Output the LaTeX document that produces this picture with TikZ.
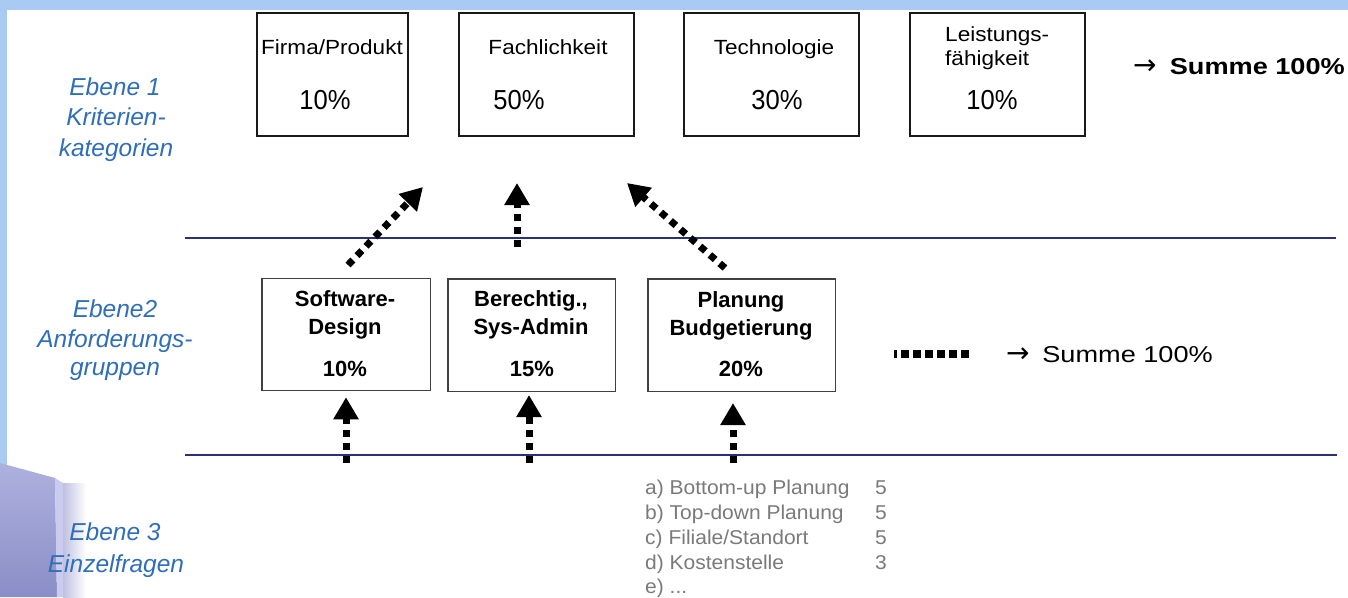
\documentclass[tikz,border=0pt]{standalone}
\usepackage{fontspec}
\setmainfont{Liberation Sans}
\newfontfamily\ttl[FakeStretch=1.1]{Liberation Sans}
\newfontfamily\pct[FakeStretch=0.93]{Liberation Sans}
\newfontfamily\sumfont[FakeStretch=1.18]{Liberation Sans}
\newfontfamily\listfont[FakeStretch=1.05]{Liberation Sans}
\newfontfamily\arrowfont{DejaVu Sans}
\usetikzlibrary{arrows.meta}
\definecolor{frameblue}{HTML}{A9CBF3}
\definecolor{lblblue}{HTML}{2F6FB8}
\definecolor{navyline}{HTML}{2A2F7E}
\definecolor{listgray}{HTML}{7A7A7A}
\definecolor{decolight}{HTML}{AEB1DE}
\definecolor{decodark}{HTML}{8A8EC6}
\definecolor{decobar}{HTML}{CACBEE}
\begin{document}
\begin{tikzpicture}[x=1pt,y=-1pt,
  topbox/.style={draw=black!90, line width=2pt, fill=white, inner sep=0pt},
  midbox/.style={draw=black!75, line width=1.5pt, fill=white, inner sep=0pt},
  ttltxt/.style={font=\ttl\fontsize{20.5}{24}\selectfont, inner sep=0pt, anchor=base},
  pcttxt/.style={font=\pct\fontsize{27.5}{30}\selectfont, inner sep=0pt, anchor=base},
  midtxt/.style={font=\bfseries\fontsize{22}{26}\selectfont, inner sep=0pt, anchor=base},
  lvltxt/.style={font=\itshape\fontsize{24.5}{28}\selectfont, text=lblblue, inner sep=0pt, anchor=base},
  listtxt/.style={font=\listfont\fontsize{20}{24}\selectfont, text=listgray, inner sep=0pt, anchor=base west},
  darr/.style={line width=7pt, dash pattern=on 7pt off 6pt, -{Triangle[length=22pt,width=24pt]}},
  hrule/.style={draw=navyline, line width=1.4pt}
]
\useasboundingbox (0,0) rectangle (1348,597);
\fill[white] (0,0) rectangle (1348,597);
% frame
\fill[frameblue] (0,0) rectangle (1348,10);
\fill[frameblue] (0,0) rectangle (7,597);
% decoration bottom left
\shade[top color=decolight, bottom color=decodark] (0,463) -- (55,478) -- (57,597) -- (0,597) -- cycle;
\fill[decobar] (55,478) -- (63,483) -- (64,597) -- (57,597) -- cycle;
\shade[left color=decodark!55!white, right color=white] (63,483) rectangle (86,597);

% horizontal rules
\coordinate (l1a) at (185,238); \coordinate (l1b) at (1336,238);
\coordinate (l2a) at (185,455); \coordinate (l2b) at (1337,455);
\draw[hrule] (l1a) -- (l1b);
\draw[hrule] (l2a) -- (l2b);

% level labels
\node[lvltxt] (e1a) at (115,95) {Ebene 1};
\node[lvltxt] (e1b) at (116,125) {Kriterien-};
\node[lvltxt] (e1c) at (116,156) {kategorien};
\node[lvltxt] (e2a) at (115,317) {Ebene2};
\node[lvltxt] (e2b) at (115,347) {Anforderungs-};
\node[lvltxt] (e2c) at (115,375) {gruppen};
\node[lvltxt] (e3a) at (115,540) {Ebene 3};
\node[lvltxt] (e3b) at (116,572.5) {Einzelfragen};

% level 1 boxes
\node[topbox, minimum width=151pt, minimum height=123pt] (b1) at (332.5,74.5) {};
\node[topbox, minimum width=175pt, minimum height=123pt] (b2) at (546.5,74.5) {};
\node[topbox, minimum width=175pt, minimum height=123pt] (b3) at (771.5,74.5) {};
\node[topbox, minimum width=175pt, minimum height=123pt] (b4) at (997.5,74.5) {};
\node[ttltxt] (b1t) at (332,54) {Firma/Produkt};
\node[pcttxt] (b1p) at (325,109) {10\%};
\node[ttltxt] (b2t) at (548,54) {Fachlichkeit};
\node[pcttxt] (b2p) at (519,109) {50\%};
\node[ttltxt] (b3t) at (774,54) {Technologie};
\node[pcttxt] (b3p) at (777,109) {30\%};
\node[ttltxt, anchor=base west] (b4t) at (945,41) {Leistungs-};
\node[ttltxt, anchor=base west] (b4u) at (945,65) {fähigkeit};
\node[pcttxt] (b4p) at (992,109) {10\%};
\node[font=\arrowfont\fontsize{28}{30}\selectfont, inner sep=0pt, anchor=base west] (ar1) at (1133,74) {→};
\node[font=\sumfont\bfseries\fontsize{23}{26}\selectfont, inner sep=0pt, anchor=base east] (sum1) at (1345,74) {Summe 100\%};

% level 2 boxes
\node[midbox, minimum width=168.5pt, minimum height=112pt] (sd) at (346,334.5) {};
\node[midbox, minimum width=167.5pt, minimum height=112.5pt] (bs) at (531.5,335) {};
\node[midbox, minimum width=187.5pt, minimum height=112.5pt] (pb) at (741.5,335) {};
\node[midtxt] (sd1) at (345,306.5) {Software-};
\node[midtxt] (sd2) at (345,334) {Design};
\node[midtxt] (sd3) at (345,376) {10\%};
\node[midtxt] (bs1) at (531,306.5) {Berechtig.,};
\node[midtxt] (bs2) at (531,334) {Sys-Admin};
\node[midtxt] (bs3) at (532,376) {15\%};
\node[midtxt] (pb1) at (741,307) {Planung};
\node[midtxt] (pb2) at (741,335.5) {Budgetierung};
\node[midtxt] (pb3) at (741,376.5) {20\%};

% dotted continuation and sum
\coordinate (d1) at (894,354); \coordinate (d2) at (969,354);
\draw[line width=8pt, dash pattern=on 8pt off 4pt, dash phase=5pt] (d1) -- (d2);
\node[font=\arrowfont\fontsize{28}{30}\selectfont, inner sep=0pt, anchor=base west] (ar2) at (1006,362) {→};
\node[font=\sumfont\fontsize{23}{26}\selectfont, inner sep=0pt, anchor=base east] (sum2) at (1213,362) {Summe 100\%};

% upper arrows
\coordinate (aT) at (348,265); \coordinate (aH) at (423,187);
\coordinate (bT) at (517,247); \coordinate (bH) at (517,183);
\coordinate (cT) at (725,268); \coordinate (cH) at (627,183);
\draw[darr] (aT) -- (aH);
\draw[darr] (bT) -- (bH);
\draw[darr] (cT) -- (cH);

% lower arrows
\coordinate (sdT) at (346,463);
\coordinate (bsT) at (529,463);
\coordinate (pbT) at (733,463);
\draw[darr, shorten >=6pt] (sdT) -- (sdT |- sd.south);
\draw[darr, shorten >=3pt] (bsT) -- (bsT |- bs.south);
\draw[darr, shorten >=11pt] (pbT) -- (pbT |- pb.south);

% single questions
\node[listtxt] (q1) at (645,494) {a) Bottom-up Planung};
\node[listtxt] (q2) at (645,519) {b) Top-down Planung};
\node[listtxt] (q3) at (645,544) {c) Filiale/Standort};
\node[listtxt] (q4) at (645,569) {d) Kostenstelle};
\node[listtxt] (q5) at (645,593) {e) ...};
\node[listtxt] (n1) at (875,494) {5};
\node[listtxt] (n2) at (875,519) {5};
\node[listtxt] (n3) at (875,544) {5};
\node[listtxt] (n4) at (875,569) {3};
\end{tikzpicture}
\end{document}
